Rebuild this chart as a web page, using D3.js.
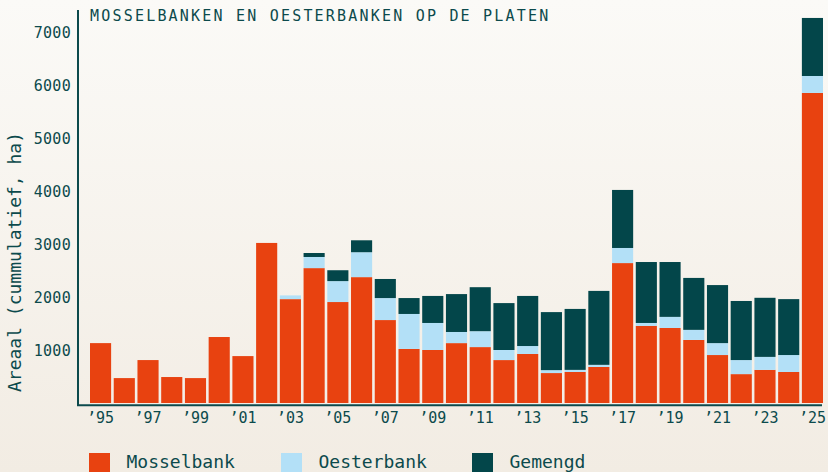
<!DOCTYPE html>
<html>
<head>
<meta charset="utf-8">
<script src="https://cdn.jsdelivr.net/npm/d3@7"></script>
<style>
html,body{margin:0;padding:0;}
body{width:828px;height:472px;overflow:hidden;}
svg{display:block;}
text{font-family:"DejaVu Sans Mono",monospace;fill:#0c4a4c;}
</style>
</head>
<body>
<svg id="chart" width="828" height="472"></svg>
<script>
const years = d3.range(1995, 2026);
const mosselbank = [1130,470,810,490,470,1245,885,3020,1960,2545,1905,2375,1565,1020,1000,1130,1055,810,925,565,585,680,2640,1455,1415,1190,905,545,625,585,5850];
const oesterbank = [0,0,0,0,0,0,0,0,70,210,395,470,415,660,510,210,300,190,150,55,40,40,285,55,210,190,225,265,245,320,320];
const gemengd    = [0,0,0,0,0,0,0,0,0,75,205,225,360,300,510,715,830,885,945,1095,1150,1395,1095,1150,1035,980,1095,1115,1115,1055,1095];
const seriesNames = ["Mosselbank","Oesterbank","Gemengd"];
const colors = ["#e84210","#b3e0f7","#03464a"];
const yTicks = [1000,2000,3000,4000,5000,6000,7000];
const xTickYears = d3.range(1995, 2026, 2);

const W = 828, H = 472;
const svg = d3.select("#chart");
const defs = svg.append("defs");
const grad = defs.append("linearGradient").attr("id","bg").attr("x1",0).attr("y1",0).attr("x2",0).attr("y2",1);
grad.append("stop").attr("offset","0%").attr("stop-color","#fbfaf7");
grad.append("stop").attr("offset","100%").attr("stop-color","#f2ece3");
svg.append("rect").attr("width",W).attr("height",H).attr("fill","url(#bg)");

const table = years.map((yr,i)=>({year:yr, Mosselbank:mosselbank[i], Oesterbank:oesterbank[i], Gemengd:gemengd[i]}));
const stack = d3.stack().keys(seriesNames)(table);

const x = d3.scaleBand().domain(years).range([88.7, 824.3]).paddingInner(0.11).paddingOuter(0.055);
const y = d3.scaleLinear().domain([0,7000]).range([403, 32]);

const color = d3.scaleOrdinal().domain(seriesNames).range(colors);

svg.append("g").selectAll("g").data(stack).join("g")
  .attr("fill", d=>color(d.key))
  .selectAll("rect").data(d=>d).join("rect")
  .attr("x", d=>x(d.data.year))
  .attr("width", x.bandwidth())
  .attr("y", d=>y(d[1]))
  .attr("height", d=>Math.max(0, y(d[0]) - y(d[1])));

// axes lines
svg.append("line").attr("x1",78).attr("x2",78).attr("y1",10).attr("y2",406)
  .attr("stroke","#0c4a4c").attr("stroke-width",2);
svg.append("line").attr("x1",77).attr("x2",822).attr("y1",405.3).attr("y2",405.3)
  .attr("stroke","#0c4a4c").attr("stroke-width",2);

// y ticks
const yAxis = d3.axisLeft(y).tickValues(yTicks).tickSize(0).tickPadding(0).tickFormat(d3.format("d"));
const gy = svg.append("g").attr("transform","translate(71,0)").call(yAxis);
gy.select(".domain").remove();
gy.selectAll("text").style("font-family","DejaVu Sans Mono").style("font-size","15px")
  .style("letter-spacing","0.3px").attr("fill","#0c4a4c").attr("dy","0.36em");

// x ticks
const xAxis = d3.axisBottom(x).tickValues(xTickYears).tickSize(0).tickPadding(0)
  .tickFormat(d=>"\u2019"+String(d).slice(2));
const gx = svg.append("g").attr("transform","translate(0,412)").call(xAxis);
gx.select(".domain").remove();
gx.selectAll("text").style("font-family","DejaVu Sans Mono").style("font-size","15px")
  .attr("fill","#0c4a4c").attr("dy","0.72em");

// title
svg.append("text").attr("x",90).attr("y",20.5)
  .style("font-size","15px").style("letter-spacing","2.2px")
  .text("MOSSELBANKEN EN OESTERBANKEN OP DE PLATEN");

// y axis title
svg.append("text").attr("transform","translate(21,262) rotate(-90)")
  .attr("text-anchor","middle").style("font-size","18px")
  .text("Areaal (cummulatief, ha)");

// legend
const legX = [89, 281, 472];
const leg = svg.append("g").selectAll("g").data(seriesNames).join("g")
  .attr("transform",(d,i)=>`translate(${legX[i]},453)`);
leg.append("rect").attr("width",21).attr("height",21).attr("fill",d=>color(d));
leg.append("text").attr("x",37.5).attr("y",15).style("font-size","18px")
  .text(d=>d);
</script>
</body>
</html>
